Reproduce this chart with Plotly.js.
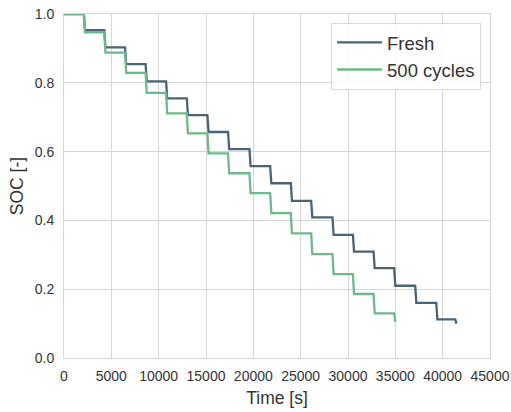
<!DOCTYPE html>
<html>
<head>
<meta charset="utf-8">
<script src="https://cdn.plot.ly/plotly-3.0.1.min.js"></script>
<style>
  html, body { margin: 0; padding: 0; background: #ffffff; }
  #chart { width: 511px; height: 412px; }
</style>
</head>
<body>
<div id="chart"></div>
<script>
// Start time of each discharge pulse [s] (both cells pulsed on the same schedule)
const pulseStartTimes = [2100, 4260, 6450, 8620, 10780, 12970, 15150, 17330, 19590, 21780,
                         23960, 26110, 28360, 30520, 32700, 34880, 37100, 39320, 41330];

// SOC level held during each rest period, before and after every pulse [-]
const freshSOC = [1.000, 0.953, 0.903, 0.854, 0.804, 0.755, 0.706, 0.657, 0.607, 0.558,
                  0.508, 0.457, 0.409, 0.358, 0.309, 0.261, 0.210, 0.160, 0.112, 0.100];
const agedSOC  = [1.000, 0.947, 0.888, 0.829, 0.771, 0.711, 0.653, 0.595, 0.537, 0.479,
                  0.421, 0.362, 0.302, 0.244, 0.186, 0.130, 0.105];

// Length of a single discharge pulse [s]
const pulseDuration = 120;

const seriesNames = ['Fresh', '500 cycles'];
const seriesColors = ['#4a6377', '#6db98a'];

const xTicks = [0, 5000, 10000, 15000, 20000, 25000, 30000, 35000, 40000, 45000];
const yTicks = [0, 0.2, 0.4, 0.6, 0.8, 1.0];
const yTickText = ['0.0', '0.2', '0.4', '0.6', '0.8', '1.0'];

// Turn rest levels + pulse start times into a staircase SOC(t) profile
function staircase(levels) {
  const t = [0], soc = [levels[0]];
  for (let i = 1; i < levels.length; i++) {
    const t0 = pulseStartTimes[i - 1];
    t.push(t0, t0 + pulseDuration);
    soc.push(levels[i - 1], levels[i]);
  }
  return { t, soc };
}

const fresh = staircase(freshSOC);
const aged = staircase(agedSOC);

const traces = [fresh, aged].map((s, i) => ({
  x: s.t,
  y: s.soc,
  type: 'scatter',
  mode: 'lines',
  name: seriesNames[i],
  line: { color: seriesColors[i], width: 2.3 }
}));

const gridColor = '#d6d6d6';
const textColor = '#333333';

const layout = {
  width: 511,
  height: 412,
  margin: { l: 64, r: 21, t: 14, b: 54 },
  paper_bgcolor: '#ffffff',
  plot_bgcolor: '#ffffff',
  font: { family: 'Liberation Sans, Arial, sans-serif', color: textColor, size: 14 },
  showlegend: true,
  legend: {
    x: 0.979, y: 0.974, xanchor: 'right', yanchor: 'top',
    bgcolor: 'rgba(255,255,255,0.85)',
    bordercolor: '#d9d9d9', borderwidth: 1,
    font: { size: 18.5, color: textColor },
    itemwidth: 45,
    tracegroupgap: 0
  },
  xaxis: {
    range: [0, 45000],
    tickvals: xTicks,
    ticktext: xTicks.map(String),
    showgrid: true, gridcolor: gridColor, gridwidth: 1,
    zeroline: false,
    showline: true, linecolor: gridColor, linewidth: 1, mirror: true,
    ticks: 'outside', ticklen: 5, tickcolor: 'rgba(0,0,0,0)',
    tickfont: { size: 14, color: textColor },
    title: { text: 'Time [s]', font: { size: 17.5, color: textColor }, standoff: 8 }
  },
  yaxis: {
    range: [0, 1.0],
    tickvals: yTicks,
    ticktext: yTickText,
    showgrid: true, gridcolor: gridColor, gridwidth: 1,
    zeroline: false,
    showline: true, linecolor: gridColor, linewidth: 1, mirror: true,
    ticks: 'outside', ticklen: 6, tickcolor: 'rgba(0,0,0,0)',
    tickfont: { size: 14, color: textColor },
    title: { text: 'SOC [-]', font: { size: 17.5, color: textColor }, standoff: 6 }
  }
};

Plotly.newPlot('chart', traces, layout, { displayModeBar: false, staticPlot: true });
</script>
</body>
</html>
